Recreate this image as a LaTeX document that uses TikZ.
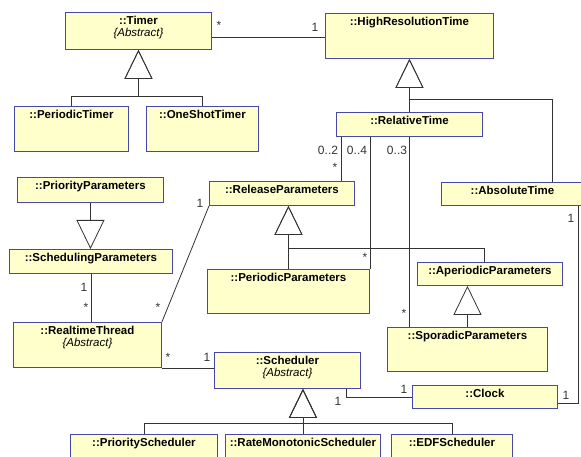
\documentclass[tikz,border=0pt]{standalone}
\usepackage{fontspec}
\setmainfont{Liberation Sans}
\usetikzlibrary{arrows.meta, positioning}
\definecolor{umlfill}{HTML}{FFFFCC}
\definecolor{umlline}{HTML}{4848A8}
\definecolor{wire}{HTML}{333333}

\begin{document}
\begin{tikzpicture}[x=1pt, y=-1pt,
  klasse/.style 2 args={draw=umlline, fill=umlfill, line width=0.9pt, anchor=north west,
    minimum width=#1, minimum height=#2, inner sep=0pt},
  titel/.style={anchor=north, inner sep=3.5pt, align=center,
    font=\fontsize{11.5}{12.5}\selectfont\bfseries},
  mult/.style={inner sep=0pt, text=wire, font=\fontsize{12}{14}\selectfont},
  verb/.style={draw=wire, line width=0.8pt},
  erbt/.style={verb, -{Triangle[open, length=29pt, width=28pt]}}]
  \clip (0,0) rectangle (581,457);

  % Klassen
  \node[klasse={146}{37}] (timer) at (65,12) {};
  \node[klasse={168}{45}] (hrt) at (325,13) {};
  \node[klasse={114}{45}] (ptimer) at (14,106) {};
  \node[klasse={112}{45}] (ostimer) at (146,106) {};
  \node[klasse={146}{24}] (reltime) at (336,112) {};
  \node[klasse={146}{25}] (prioparam) at (17,177) {};
  \node[klasse={145}{24}] (relparam) at (209,181) {};
  \node[klasse={142}{23}] (abstime) at (441,182) {};
  \node[klasse={163}{24}] (schedparam) at (9,249) {};
  \node[klasse={162}{44}] (perparam) at (207,269) {};
  \node[klasse={145}{23}] (aperparam) at (417,262) {};
  \node[klasse={160}{44}] (sporparam) at (387,327) {};
  \node[klasse={148}{45}] (rtthread) at (13,322) {};
  \node[klasse={146}{36}] (sched) at (214,352) {};
  \node[klasse={145}{23}] (clock) at (412,385) {};
  \node[klasse={147}{36}] (priosched) at (70,434) {};
  \node[klasse={155}{36}] (rmsched) at (225,434) {};
  \node[klasse={121}{36}] (edfsched) at (391,434) {};

  % Namen
  \node[titel] (timer-n) at (timer.north) {::Timer\\{\mdseries\itshape\{Abstract\}}};
  \node[titel] (hrt-n) at (hrt.north) {::HighResolutionTime};
  \node[titel] (ptimer-n) at (ptimer.north) {::PeriodicTimer};
  \node[titel] (ostimer-n) at (ostimer.north) {::OneShotTimer};
  \node[titel] (reltime-n) at (reltime.north) {::RelativeTime};
  \node[titel] (prioparam-n) at (prioparam.north) {::PriorityParameters};
  \node[titel] (relparam-n) at (relparam.north) {::ReleaseParameters};
  \node[titel] (abstime-n) at (abstime.north) {::AbsoluteTime};
  \node[titel] (schedparam-n) at (schedparam.north) {::SchedulingParameters};
  \node[titel] (perparam-n) at (perparam.north) {::PeriodicParameters};
  \node[titel] (aperparam-n) at (aperparam.north) {::AperiodicParameters};
  \node[titel] (sporparam-n) at (sporparam.north) {::SporadicParameters};
  \node[titel] (rtthread-n) at (rtthread.north) {::RealtimeThread\\{\mdseries\itshape\{Abstract\}}};
  \node[titel] (sched-n) at (sched.north) {::Scheduler\\{\mdseries\itshape\{Abstract\}}};
  \node[titel] (clock-n) at (clock.north) {::Clock};
  \node[titel] (priosched-n) at (priosched.north) {::PriorityScheduler};
  \node[titel] (rmsched-n) at (rmsched.north) {::RateMonotonicScheduler};
  \node[titel] (edfsched-n) at (edfsched.north) {::EDFScheduler};

  % Vererbung
  \coordinate (tbar) at (timer.south |- 0,96);
  \draw[erbt] (ptimer.north) |- (tbar) -- (timer.south);
  \draw[erbt] (ostimer.north) |- (tbar) -- (timer.south);
  \draw[erbt] (reltime.north) -- (hrt.south);
  \draw[erbt] ([xshift=40]abstime.north) |- (reltime.north |- 0,99) -- (hrt.south);
  \coordinate (rbar) at (perparam.north |- 0,248);
  \draw[erbt] (perparam.north) -- (perparam.north |- relparam.south);
  \draw[erbt] ([xshift=-6]aperparam.north) |- (rbar) -- (perparam.north |- relparam.south);
  \draw[erbt] (sporparam.north) -- (sporparam.north |- aperparam.south);
  \draw[erbt] (prioparam.south) -- (prioparam.south |- schedparam.north);
  \coordinate (sbar) at (rmsched.north |- 0,423);
  \draw[erbt] (rmsched.north) -- (rmsched.north |- sched.south);
  \draw[erbt] (priosched.north) |- (sbar) -- (rmsched.north |- sched.south);
  \draw[erbt] (edfsched.north) |- (sbar) -- (rmsched.north |- sched.south);

  % Assoziationen
  \draw[verb] (timer.east |- 0,37) -- (hrt.west |- 0,37);
  \draw[verb] (reltime.south -| 341,0) -- (relparam.north -| 341,0);
  \draw[verb] (reltime.south -| perparam.east) -- (perparam.north east);
  \draw[verb] (reltime.south) -- (reltime.south |- sporparam.north);
  \draw[verb] (relparam.south west) -- (rtthread.north east);
  \draw[verb] (schedparam.south) -- (schedparam.south |- rtthread.north);
  \draw[verb] (rtthread.south east) -- (sched.west |- rtthread.south east);
  \draw[verb] ([xshift=-15]sched.south east) |- (clock.west);
  \draw[verb] ([xshift=-6]abstime.south east) |- ([yshift=-6]clock.east);

  % Multiplizitaeten
  \node[mult] (m-timer) at (219,25) {*};
  \node[mult] (m-hrt) at (315,27) {1};
  \node[mult] (m-rp-rt) at (328,150) {0..2};
  \node[mult] (m-pp-rt) at (357,150) {0..4};
  \node[mult] (m-sp-rt) at (397,150) {0..3};
  \node[mult] (m-rt-rp) at (335,167) {*};
  \node[mult] (m-rt-pp) at (365,257) {*};
  \node[mult] (m-rt-sp) at (404,313) {*};
  \node[mult] (m-abs) at (571,218) {1};
  \node[mult] (m-clock-abs) at (566,395) {1};
  \node[mult] (m-clock-s) at (404,389) {1};
  \node[mult] (m-sched-c) at (338,401) {1};
  \node[mult] (m-rtt-s) at (168,357) {*};
  \node[mult] (m-sched-rtt) at (207,357) {1};
  \node[mult] (m-rp-rtt) at (200,203) {1};
  \node[mult] (m-rtt-rp) at (158,307) {*};
  \node[mult] (m-sp-rtt) at (84,287) {1};
  \node[mult] (m-rtt-sp) at (86,307) {*};
\end{tikzpicture}
\end{document}
